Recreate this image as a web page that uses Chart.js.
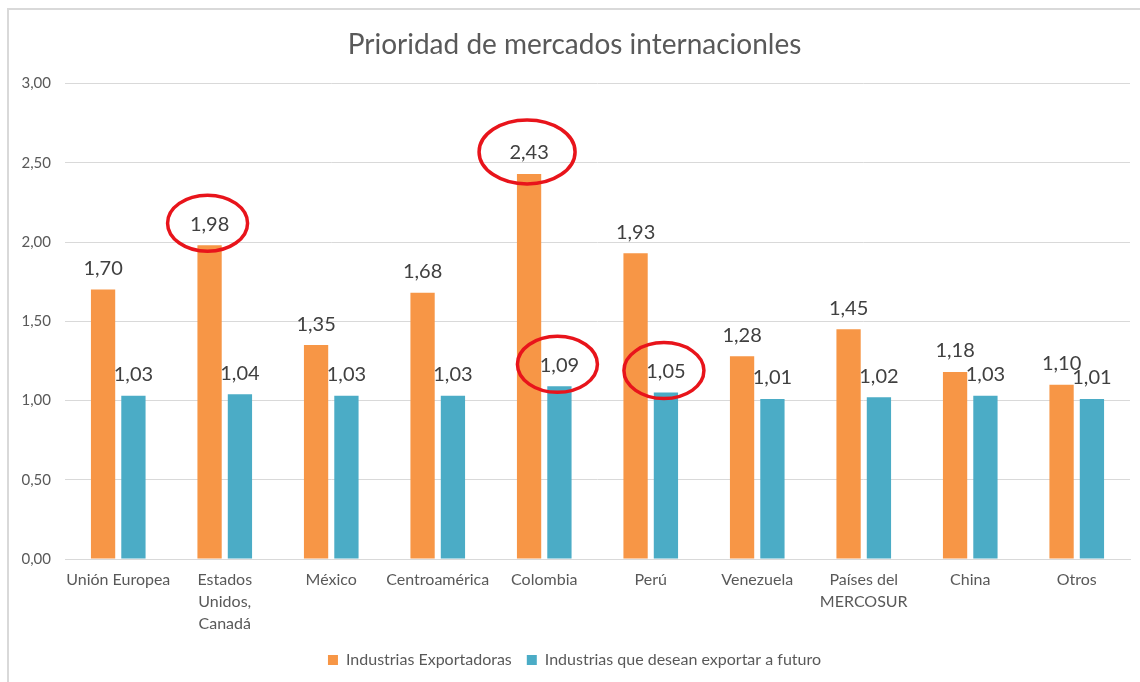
<!DOCTYPE html>
<html>
<head>
<meta charset="utf-8">
<script src="https://cdn.jsdelivr.net/npm/chart.js@4.4.1/dist/chart.umd.min.js"></script>
<style>
  html, body { margin: 0; padding: 0; background: #fff; overflow: hidden; }
  #frame { position: absolute; left: 7px; top: 8px; width: 1200px; height: 700px; border: 2px solid #d9d9d9; }
  #box { position: absolute; left: 0; top: 0; width: 1131px; height: 672px; }
</style>
</head>
<body>
<div id="frame"><div id="box"><canvas id="myChart"></canvas></div></div>
<script>
// datos
const categorias = ['Unión Europea', ['Estados', 'Unidos,', 'Canadá'], 'México', 'Centroamérica', 'Colombia', 'Perú', 'Venezuela', ['Países del', 'MERCOSUR'], 'China', 'Otros'];
const exportadoras = [1.70, 1.98, 1.35, 1.68, 2.43, 1.93, 1.28, 1.45, 1.18, 1.10];
const futuro = [1.03, 1.04, 1.03, 1.03, 1.09, 1.05, 1.01, 1.02, 1.03, 1.01];
const ticksY = [0, 0.5, 1, 1.5, 2, 2.5, 3];
// etiquetas marcadas con circulo rojo: [serie, indice]
const marcados = [[0, 1], [0, 4], [1, 4], [1, 5]];

const fmt = v => v.toFixed(2).replace('.', ',');
const FONT = 'Lato, Calibri, "Open Sans", sans-serif';

// etiquetas de datos encima de cada barra
const etiquetas = {
    id: 'etiquetas',
    afterDatasetsDraw(chart) {
        const ctx = chart.ctx;
        ctx.save();
        ctx.font = '20px ' + FONT;
        ctx.fillStyle = '#404040';
        ctx.textAlign = 'center';
        ctx.textBaseline = 'middle';
        chart.data.datasets.forEach((ds, i) => {
            chart.getDatasetMeta(i).data.forEach((bar, j) => {
                ctx.fillText(fmt(ds.data[j]), bar.x, bar.y - 21);
            });
        });
        // circulos rojos
        ctx.strokeStyle = '#e8141b';
        ctx.lineWidth = 3.5;
        marcados.forEach(([i, j]) => {
            const bar = chart.getDatasetMeta(i).data[j];
            const big = chart.data.datasets[i].data[j] > 2.2;
            ctx.beginPath();
            ctx.ellipse(bar.x - 2, bar.y - 22, big ? 48 : 40, big ? 32 : 28, 0, 0, Math.PI * 2);
            ctx.stroke();
        });
        ctx.restore();
    }
};

const ctx = document.getElementById('myChart').getContext('2d');
new Chart(ctx, {
    type: 'bar',
    data: {
        labels: categorias,
        datasets: [{
            label: 'Industrias Exportadoras',
            data: exportadoras,
            backgroundColor: '#f79646',
            categoryPercentage: 0.57,
            barPercentage: 0.8
        }, {
            label: 'Industrias que desean exportar a futuro',
            data: futuro,
            backgroundColor: '#4bacc6',
            categoryPercentage: 0.57,
            barPercentage: 0.8
        }]
    },
    options: {
        responsive: true,
        maintainAspectRatio: false,
        animation: false,
        layout: { padding: { left: 10, right: 10, top: 0, bottom: 4 } },
        plugins: {
            title: {
                display: true,
                text: 'Prioridad de mercados internacionles',
                color: '#595959',
                font: { family: FONT, size: 28, weight: 'normal' },
                padding: { top: 18, bottom: 22 }
            },
            legend: {
                position: 'bottom',
                labels: {
                    color: '#595959',
                    font: { family: FONT, size: 16 },
                    boxWidth: 10,
                    boxHeight: 10,
                    padding: 15
                }
            },
            tooltip: { enabled: false }
        },
        scales: {
            x: {
                grid: { display: false },
                border: { color: '#d9d9d9' },
                ticks: { color: '#595959', font: { family: FONT, size: 16, lineHeight: 1.375 }, maxRotation: 0, autoSkip: false, padding: 2 }
            },
            y: {
                min: 0,
                max: 3,
                afterBuildTicks: axis => { axis.ticks = ticksY.map(v => ({ value: v })); },
                afterFit: axis => { axis.width = 46; },
                grid: { color: '#d9d9d9', drawTicks: false },
                border: { display: false },
                ticks: { color: '#595959', font: { family: FONT, size: 15 }, padding: 14, callback: v => fmt(v) }
            }
        }
    },
    plugins: [etiquetas]
});
</script>
</body>
</html>
